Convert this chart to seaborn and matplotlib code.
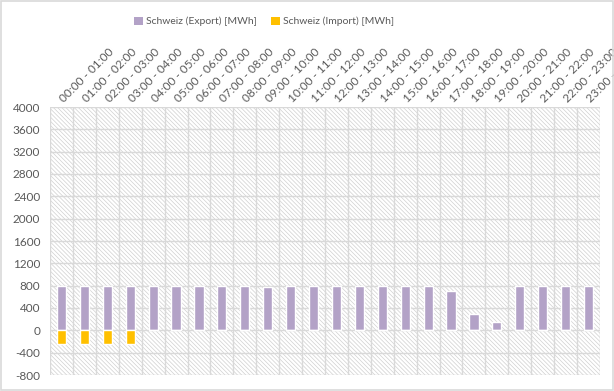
import matplotlib
matplotlib.use("Agg")
import matplotlib.pyplot as plt
from matplotlib.patches import Rectangle
from matplotlib.ticker import FixedLocator
import seaborn as sns
import pandas as pd

hours = ["00:00 - 01:00", "01:00 - 02:00", "02:00 - 03:00", "03:00 - 04:00",
         "04:00 - 05:00", "05:00 - 06:00", "06:00 - 07:00", "07:00 - 08:00",
         "08:00 - 09:00", "09:00 - 10:00", "10:00 - 11:00", "11:00 - 12:00",
         "12:00 - 13:00", "13:00 - 14:00", "14:00 - 15:00", "15:00 - 16:00",
         "16:00 - 17:00", "17:00 - 18:00", "18:00 - 19:00", "19:00 - 20:00",
         "20:00 - 21:00", "21:00 - 22:00", "22:00 - 23:00", "23:00 - 24:00"]
export_mwh = [800, 800, 800, 800, 800, 800, 800, 800, 800, 785, 800, 800,
              800, 800, 800, 800, 800, 710, 285, 158, 800, 800, 800, 800]
import_mwh = [-250, -250, -250, -250, 0, 0, 0, 0, 0, 0, 0, 0,
              0, 0, 0, 0, 0, 0, 0, 0, 0, 0, 0, 0]
series_names = ["Schweiz (Export) [MWh]", "Schweiz (Import) [MWh]"]
series_colors = ["#b3a2c7", "#ffc000"]
yticks = [-800, -400, 0, 400, 800, 1200, 1600, 2000, 2400, 2800, 3200, 3600, 4000]

df = pd.DataFrame({
    "hour": hours * 2,
    "value": export_mwh + import_mwh,
    "series": [series_names[0]] * len(hours) + [series_names[1]] * len(hours),
})

sns.set_theme(style="white")
plt.rcParams["font.family"] = ["Lato", "DejaVu Sans"]
plt.rcParams["hatch.linewidth"] = 0.5
txt = "#595959"
grid = "#d9d9d9"

fig = plt.figure(figsize=(6.14, 3.91), dpi=100)
ax = fig.add_axes([50 / 614, 16 / 391, 550 / 614, 268 / 391])

ax.add_patch(Rectangle((0, 0), 1, 1, transform=ax.transAxes, facecolor="white",
                       edgecolor="#d0d0d0", hatch="\\" * 8, lw=0, zorder=0))

sns.barplot(data=df, x="hour", y="value", hue="series", order=hours,
            hue_order=series_names, palette=series_colors, dodge=False,
            width=0.4, ax=ax, legend=False, zorder=3, saturation=1)

ax.set_xlim(-0.5, len(hours) - 0.5)
ax.set_ylim(-800, 4000)
ax.set_yticks(yticks)
ax.set_yticklabels([str(v) for v in yticks], color=txt, fontsize=8.5)
ax.xaxis.tick_top()
ax.set_xticks(range(len(hours)))
ax.set_xticklabels(hours, rotation=45, ha="left", va="center",
                   rotation_mode="anchor", color=txt, fontsize=8.5)
ax.tick_params(axis="x", which="major", length=0, pad=5)
ax.tick_params(axis="y", length=0, pad=7)
ax.xaxis.set_minor_locator(FixedLocator([i - 0.5 for i in range(len(hours) + 1)]))
ax.tick_params(axis="x", which="minor", length=0)
ax.grid(axis="x", which="minor", color=grid, lw=1, zorder=1)
ax.grid(axis="y", which="major", color=grid, lw=1, zorder=1)
ax.set_axisbelow(True)
for s in ax.spines.values():
    s.set_visible(False)
ax.set_xlabel("")
ax.set_ylabel("")

handles = [Rectangle((0, 0), 1, 1, facecolor=c, edgecolor="none") for c in series_colors]
fig.legend(handles, series_names, loc="center", bbox_to_anchor=(0.43, 0.945),
           ncol=2, frameon=False, fontsize=7.5, labelcolor=txt,
           handlelength=0.8, handleheight=0.8, handletextpad=0.3, columnspacing=1.4)

fig.patches.append(Rectangle((0.0015, 0.0025), 0.997, 0.995, transform=fig.transFigure,
                             fill=False, edgecolor=grid, lw=1.2))

fig.savefig("out.png", dpi=100)
